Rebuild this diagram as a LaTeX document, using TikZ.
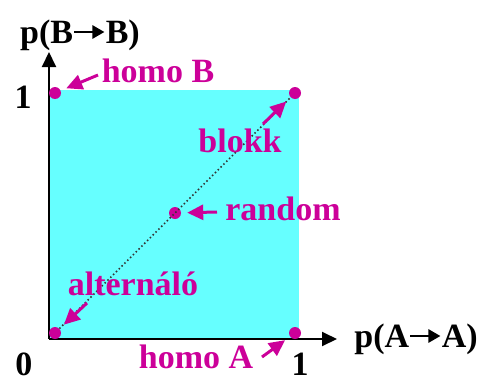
\documentclass[tikz,border=0pt]{standalone}
\usepackage{fontspec}
\setmainfont{Liberation Serif}
\usetikzlibrary{arrows.meta}
\definecolor{dotpink}{HTML}{CC0099}
\definecolor{area}{HTML}{66FFFF}
\newcommand{\pto}{\tikz[baseline=-11pt,y=-1pt]\draw[line width=2.6pt,-{Triangle[length=12pt,width=13pt]}] (0,0) -- (30,0);}
\begin{document}
\begin{tikzpicture}[x=1pt,y=-1pt,
    every node/.style={font=\fontsize{34}{36}\selectfont\bfseries,anchor=base},
    axis/.style={-{Triangle[length=15pt,width=14pt]},line width=2pt},
    spot/.style={circle,fill=dotpink,inner sep=0pt,minimum size=12pt,anchor=center},
    tag/.style={text=dotpink},
    tick/.style={inner sep=0.5pt},
    ptr/.style={-{Triangle[length=16pt,width=15pt]},line width=3pt,dotpink,shorten >=6pt}
]
\useasboundingbox (0,0) rectangle (485,383);
% region
\fill[area] (49,90) rectangle (299,339);

% axes
\coordinate (o) at (49,339);
\coordinate (xend) at (337,339);
\coordinate (yend) at (49,52);
\draw[axis] (o) -- (xend);
\draw[axis] (o) -- (yend);
\node (xlab) at (416,347) {p(A\pto A)};
\node (ylab) at (80,43) {p(B\pto B)};
\node[tick] (xone) at (300,375) {1};
\node[tick] (yone) at (23,108) {1};
\node[tick] (zero) at (24,375) {0};

% corner points
\node[spot] (hB) at (55,93) {};
\node[spot] (bl) at (295,93) {};
\node[spot] (rn) at (175,213) {};
\node[spot] (al) at (55,333) {};
\node[spot] (hA) at (295,333) {};
\draw[black!80,line width=1.5pt,dash pattern=on 1.5pt off 2.5pt] (al) -- (bl);

% labels
\node[tag] (thB) at (158,82) {homo B};
\node[tag] (tbl) at (240,152) {blokk};
\node[tag] (trn) at (283,220) {random};
\node[tag] (tal) at (133,295) {alternáló};
\node[tag] (thA) at (196,368) {homo A};

\coordinate (hBt) at (98,75);
\coordinate (blt) at (263,124);
\coordinate (rnt) at (217,212);
\coordinate (alt) at (87,303);
\coordinate (hAt) at (262,357);
\draw[ptr] (hBt) -- (hB);
\draw[ptr] (blt) -- (bl);
\draw[ptr] (rnt) -- (rn);
\draw[ptr] (alt) -- (al);
\draw[ptr] (hAt) -- (hA);
\end{tikzpicture}
\end{document}
